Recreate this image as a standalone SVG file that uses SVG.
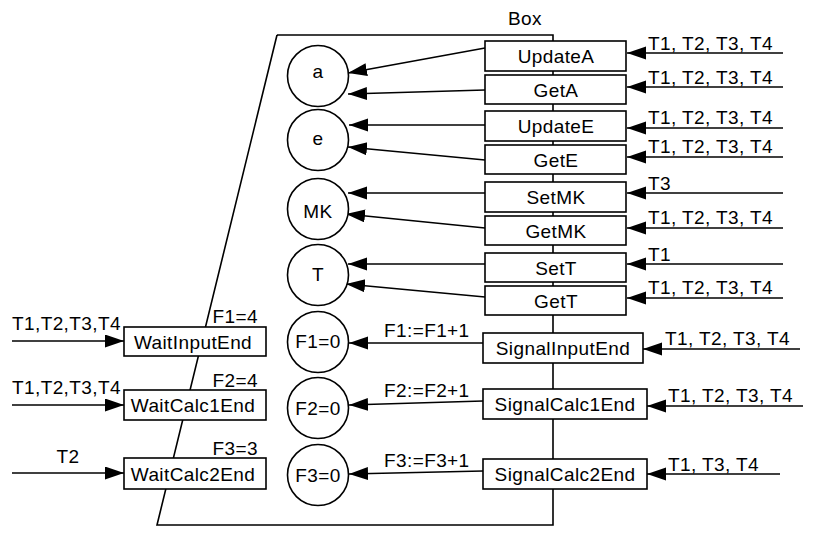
<svg xmlns="http://www.w3.org/2000/svg" width="816" height="547" viewBox="0 0 816 547">
<style>
text{font-family:"Liberation Sans",Arial,sans-serif;font-size:19px;letter-spacing:0.4px;fill:#000}
.c{text-anchor:middle}
.r{text-anchor:end}
.b{fill:#fff;stroke:#000;stroke-width:1.6}
.n{fill:#fff;stroke:#000;stroke-width:1.6}
.e{fill:none;stroke:#000;stroke-width:1.6}
.a{fill:none;stroke:#000;stroke-width:1.6;marker-end:url(#ah)}
</style>
<defs>
<marker id="ah" markerUnits="userSpaceOnUse" markerWidth="20" markerHeight="14" refX="19" refY="6.5" orient="auto">
<path d="M0,0 L19,6.5 L0,13 Z" fill="#000"/>
</marker>
</defs>
<g id="box">
<path class="e" d="M277,35 L553,35 L553,525 L157,525 L277,35"/>
<text class="c" x="525" y="25">Box</text>
</g>
<g id="connectors">
<line class="a" x1="485" y1="48" x2="348" y2="73"/>
<line class="a" x1="485" y1="90" x2="348" y2="94"/>
<line class="a" x1="485" y1="125" x2="349" y2="125"/>
<line class="a" x1="485" y1="160" x2="348" y2="147"/>
<line class="a" x1="485" y1="193" x2="348" y2="193"/>
<line class="a" x1="485" y1="228" x2="346" y2="214"/>
<line class="a" x1="485" y1="264" x2="348" y2="264"/>
<line class="a" x1="485" y1="297" x2="346" y2="284"/>
<line class="a" x1="483" y1="343" x2="349" y2="343"/>
<line class="a" x1="483" y1="401" x2="349" y2="405"/>
<line class="a" x1="483" y1="471" x2="349" y2="474"/>
<text x="384" y="337">F1:=F1+1</text>
<text x="384" y="397">F2:=F2+1</text>
<text x="384" y="467">F3:=F3+1</text>
<line class="a" x1="783" y1="53" x2="627" y2="53"/>
<line class="a" x1="783" y1="87" x2="627" y2="87"/>
<line class="a" x1="783" y1="128" x2="627" y2="128"/>
<line class="a" x1="783" y1="157" x2="627" y2="157"/>
<line class="a" x1="783" y1="193" x2="627" y2="193"/>
<line class="a" x1="783" y1="228" x2="627" y2="228"/>
<line class="a" x1="783" y1="264" x2="627" y2="264"/>
<line class="a" x1="783" y1="298" x2="627" y2="298"/>
<line class="a" x1="800" y1="349" x2="643" y2="349"/>
<line class="a" x1="803" y1="406" x2="647" y2="406"/>
<line class="a" x1="780" y1="474" x2="647" y2="474"/>
<text x="648" y="50">T1, T2, T3, T4</text>
<text x="648" y="84">T1, T2, T3, T4</text>
<text x="648" y="124">T1, T2, T3, T4</text>
<text x="648" y="153">T1, T2, T3, T4</text>
<text x="648" y="190">T3</text>
<text x="648" y="224">T1, T2, T3, T4</text>
<text x="648" y="261">T1</text>
<text x="648" y="294">T1, T2, T3, T4</text>
<text x="665" y="345">T1, T2, T3, T4</text>
<text x="668" y="402">T1, T2, T3, T4</text>
<text x="668" y="471">T1, T3, T4</text>
<line class="a" x1="12" y1="341" x2="124" y2="341"/>
<line class="a" x1="12" y1="405" x2="124" y2="405"/>
<line class="a" x1="12" y1="473" x2="124" y2="473"/>
<text x="12" y="330">T1,T2,T3,T4</text>
<text x="12" y="394">T1,T2,T3,T4</text>
<text class="c" x="68" y="463">T2</text>
<text class="r" x="258" y="323">F1=4</text>
<text class="r" x="258" y="387">F2=4</text>
<text class="r" x="258" y="455">F3=3</text>
</g>
<g id="UpdateA"><rect class="b" x="485" y="41" width="141" height="30"/><text class="c" x="556" y="63">UpdateA</text></g>
<g id="GetA"><rect class="b" x="485" y="75" width="141" height="29"/><text class="c" x="556" y="97">GetA</text></g>
<g id="UpdateE"><rect class="b" x="485" y="111" width="141" height="30"/><text class="c" x="556" y="133">UpdateE</text></g>
<g id="GetE"><rect class="b" x="485" y="145" width="141" height="29"/><text class="c" x="556" y="167">GetE</text></g>
<g id="SetMK"><rect class="b" x="485" y="182" width="141" height="30"/><text class="c" x="556" y="204">SetMK</text></g>
<g id="GetMK"><rect class="b" x="485" y="216" width="141" height="29"/><text class="c" x="556" y="238">GetMK</text></g>
<g id="SetT"><rect class="b" x="485" y="253" width="141" height="29"/><text class="c" x="556" y="275">SetT</text></g>
<g id="GetT"><rect class="b" x="485" y="286" width="141" height="29"/><text class="c" x="556" y="308">GetT</text></g>
<g id="SignalInputEnd"><rect class="b" x="483" y="333" width="160" height="30"/><text class="c" x="563" y="355">SignalInputEnd</text></g>
<g id="SignalCalc1End"><rect class="b" x="483" y="389" width="164" height="30"/><text class="c" x="565" y="411">SignalCalc1End</text></g>
<g id="SignalCalc2End"><rect class="b" x="483" y="459" width="164" height="30"/><text class="c" x="565" y="481">SignalCalc2End</text></g>
<g id="a"><circle class="n" cx="318" cy="76" r="30.5"/><text class="c" x="318" y="78">a</text></g>
<g id="e"><circle class="n" cx="318" cy="140" r="30.5"/><text class="c" x="318" y="145">e</text></g>
<g id="MK"><circle class="n" cx="318" cy="209" r="30.5"/><text class="c" x="318" y="218">MK</text></g>
<g id="T"><circle class="n" cx="318" cy="275" r="30.5"/><text class="c" x="318" y="281">T</text></g>
<g id="F1"><circle class="n" cx="318" cy="342" r="30.5"/><text class="c" x="318" y="348">F1=0</text></g>
<g id="F2"><circle class="n" cx="318" cy="408" r="30.5"/><text class="c" x="318" y="415">F2=0</text></g>
<g id="F3"><circle class="n" cx="318" cy="475" r="30.5"/><text class="c" x="318" y="482">F3=0</text></g>
<g id="WaitInputEnd"><rect class="b" x="124" y="327" width="142" height="29"/><text class="c" x="193" y="349">WaitInputEnd</text></g>
<g id="WaitCalc1End"><rect class="b" x="124" y="390" width="142" height="30"/><text class="c" x="193" y="412">WaitCalc1End</text></g>
<g id="WaitCalc2End"><rect class="b" x="124" y="458" width="142" height="31"/><text class="c" x="193" y="481">WaitCalc2End</text></g>
</svg>
